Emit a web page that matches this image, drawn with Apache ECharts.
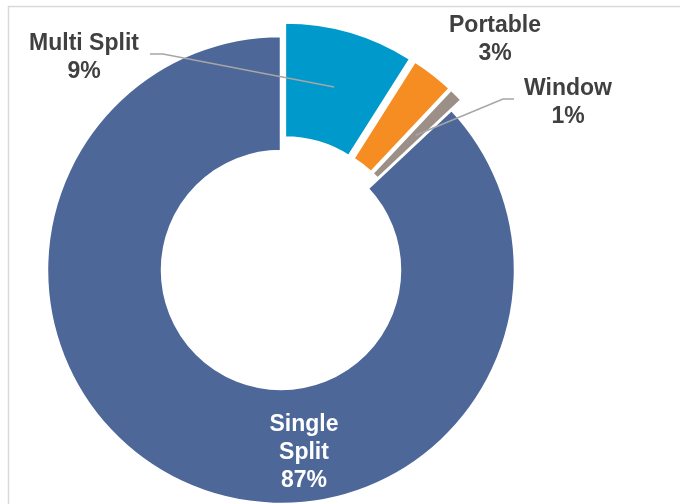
<!DOCTYPE html>
<html>
<head>
<meta charset="utf-8">
<script src="https://cdn.jsdelivr.net/npm/echarts@6/dist/echarts.min.js"></script>
<style>
  html, body { margin: 0; padding: 0; background: #fff; }
  #chart { width: 680px; height: 504px; }
</style>
</head>
<body>
<div id="chart"></div>
<script>
// Share of units by air-conditioner type (%)
const categories = ['Multi Split', 'Portable', 'Window', 'Single Split'];
const shares = [9, 3, 1, 87];
const colors = ['#0099CC', '#F58D22', '#9B8F87', '#4D6798'];
const exploded = [true, true, true, false];

// Ring geometry
const CX = 281, CY = 270, R_IN = 119, R_OUT = 234, EXPLODE = 14;

// Where each label block sits (centre x, first-line centre y) and its leader elbow
const labelSpots = [
  { x: 84, y: 44, elbow: [163, 54], end: [150, 54] },
  { x: 495, y: 26 },
  { x: 568, y: 89, elbow: [503, 99], end: [514, 99] },
  { x: 304, y: 425 }
];

const total = shares.reduce((a, b) => a + b, 0);

// Mid-ring anchor of a slice, including its explode offset
function sliceAnchor(i) {
  let before = 0;
  for (let k = 0; k < i; k++) before += shares[k];
  const mid = ((before + shares[i] / 2) / total) * 2 * Math.PI - Math.PI / 2;
  const off = exploded[i] ? EXPLODE : 0;
  const r = (R_IN + R_OUT) / 2 + off;
  return [CX + r * Math.cos(mid), CY + r * Math.sin(mid)];
}

const chart = echarts.init(document.getElementById('chart'), null, { renderer: 'canvas' });

const labelFont = {
  fontFamily: 'Liberation Sans, Arial, sans-serif',
  fontWeight: 'bold',
  fontSize: 23,
  lineHeight: 28,
  color: '#404040',
  align: 'center'
};

chart.setOption({
  animation: false,
  backgroundColor: '#ffffff',
  graphic: [{
    type: 'rect',
    shape: { x: 8.5, y: 6.5, width: 700, height: 520 },
    style: { fill: 'none', stroke: '#D9D9D9', lineWidth: 1.5 },
    silent: true,
    z: -1
  }],
  series: [
    // The ring itself, with the small slices pulled out
    {
      type: 'pie',
      z: 2,
      center: [CX, CY],
      radius: [R_IN, R_OUT],
      startAngle: 90,
      clockwise: true,
      selectedMode: 'multiple',
      selectedOffset: EXPLODE,
      emphasis: { disabled: true },
      itemStyle: { borderColor: '#ffffff', borderWidth: 2.5 },
      label: { show: false },
      labelLine: { show: false },
      data: categories.map((name, i) => ({
        name: name,
        value: shares[i],
        selected: exploded[i],
        itemStyle: { color: colors[i] },
        select: { itemStyle: { color: colors[i], borderColor: '#ffffff', borderWidth: 2.5 } }
      }))
    },
    // Category / percentage labels and leader lines, drawn above the ring
    {
      type: 'pie',
      z: 10,
      silent: true,
      center: [CX, CY],
      radius: [R_IN, R_OUT],
      startAngle: 90,
      clockwise: true,
      avoidLabelOverlap: false,
      emphasis: { disabled: true },
      itemStyle: { color: 'rgba(0,0,0,0)', borderWidth: 0 },
      label: Object.assign({
        show: true,
        position: 'outside',
        formatter: p => p.dataIndex === 3
          ? p.name.replace(' ', '\n') + '\n' + p.value + '%'
          : p.name + '\n' + p.value + '%'
      }, labelFont),
      labelLine: {
        show: true,
        lineStyle: { color: '#A6A6A6', width: 1.5 }
      },
      labelLayout: params => {
        const i = params.dataIndex;
        const s = labelSpots[i];
        const h = params.labelRect.height;
        const out = {
          x: s.x,
          y: s.y - 14 + h / 2,
          align: 'center',
          verticalAlign: 'middle'
        };
        if (s.elbow) {
          out.labelLinePoints = [sliceAnchor(i), s.elbow, s.end];
        }
        return out;
      },
      data: categories.map((name, i) => ({
        name: name,
        value: shares[i],
        label: i === 3 ? { color: '#ffffff' } : {},
        labelLine: { show: i === 0 || i === 2 }
      }))
    }
  ]
});
</script>
</body>
</html>
